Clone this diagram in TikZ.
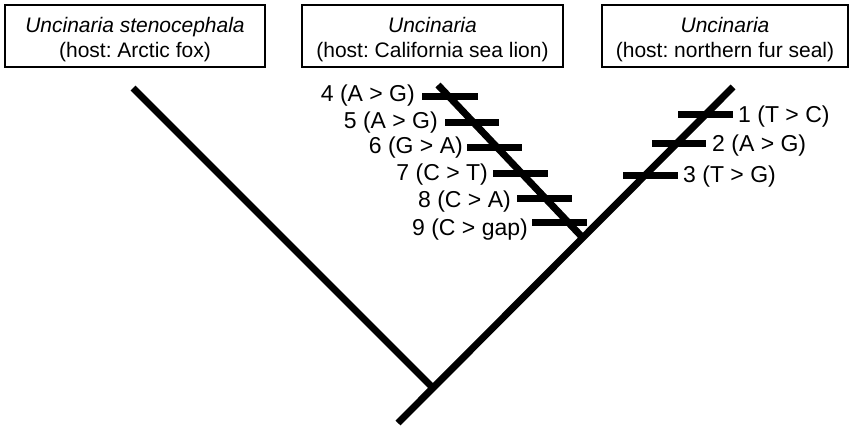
\documentclass[tikz,border=0pt]{standalone}
\usepackage{fontspec}
\setmainfont{Liberation Sans}
\usetikzlibrary{positioning}
\frenchspacing
% two-line taxon label, set a bit below the box middle
\newcommand\hostlines[2]{\raisebox{-3.5pt}[\height][\depth]{%
  \begin{tabular}{@{}c@{}}\textit{#1}\\#2\end{tabular}}}

\begin{document}
\begin{tikzpicture}[x=1pt,y=-1pt,
  taxon/.style={draw,line width=1.6pt,minimum width=#1,minimum height=62pt,
    inner sep=0pt,font=\fontsize{21}{25}\selectfont},
  br/.style={line width=7pt},
  bar/.style={line width=7pt},
  mutL/.style={anchor=east,inner sep=0pt,font=\fontsize{23}{26}\selectfont},
  mutR/.style={anchor=west,inner sep=0pt,font=\fontsize{23}{26}\selectfont}]
\useasboundingbox (0,0) rectangle (858,426);
% taxa
\node[taxon=260pt] (fox) at (135,36) {\hostlines{Uncinaria stenocephala}{(host: Arctic fox)}};
\node[taxon=261pt] (lion) at (432.5,36) {\hostlines{Uncinaria}{(host: California sea lion)}};
\node[taxon=246pt] (seal) at (725,36) {\hostlines{Uncinaria}{(host: northern fur seal)}};
% tree
\coordinate (root) at (398,423);
\coordinate (jL) at (433,388);
\coordinate (jM) at (583,238);
\coordinate (tipL) at (133,88);
\coordinate (tipM) at (438,85);
\coordinate (tipR) at (733,87);
\draw[br] (root) -- (tipR);
\draw[br] (tipL) -- (jL);
\draw[br] (tipM) -- (jM);
% changes, sea lion branch
\draw[bar] (422,96) -- (478,96);
\draw[bar] (445,122) -- (499,122);
\draw[bar] (467,147) -- (522,147);
\draw[bar] (493,173) -- (548,173);
\draw[bar] (517,198) -- (572,198);
\draw[bar] (532,222) -- (587,222);
\node[mutL] (m4) at (415,96) {4 (A > G)};
\node[mutL] (m5) at (438,123) {5 (A > G)};
\node[mutL] (m6) at (463,148) {6 (G > A)};
\node[mutL] (m7) at (488,175) {7 (C > T)};
\node[mutL] (m8) at (511,202) {8 (C > A)};
\node[mutL] (m9) at (528,230) {9 (C > gap)};
% changes, fur seal branch
\draw[bar] (678,114) -- (733,114);
\draw[bar] (652,143) -- (706,143);
\draw[bar] (623,175) -- (678,175);
\node[mutR] (m1) at (738,117) {1 (T > C)};
\node[mutR] (m2) at (712,146) {2 (A > G)};
\node[mutR] (m3) at (683,177) {3 (T > G)};
\end{tikzpicture}
\end{document}
